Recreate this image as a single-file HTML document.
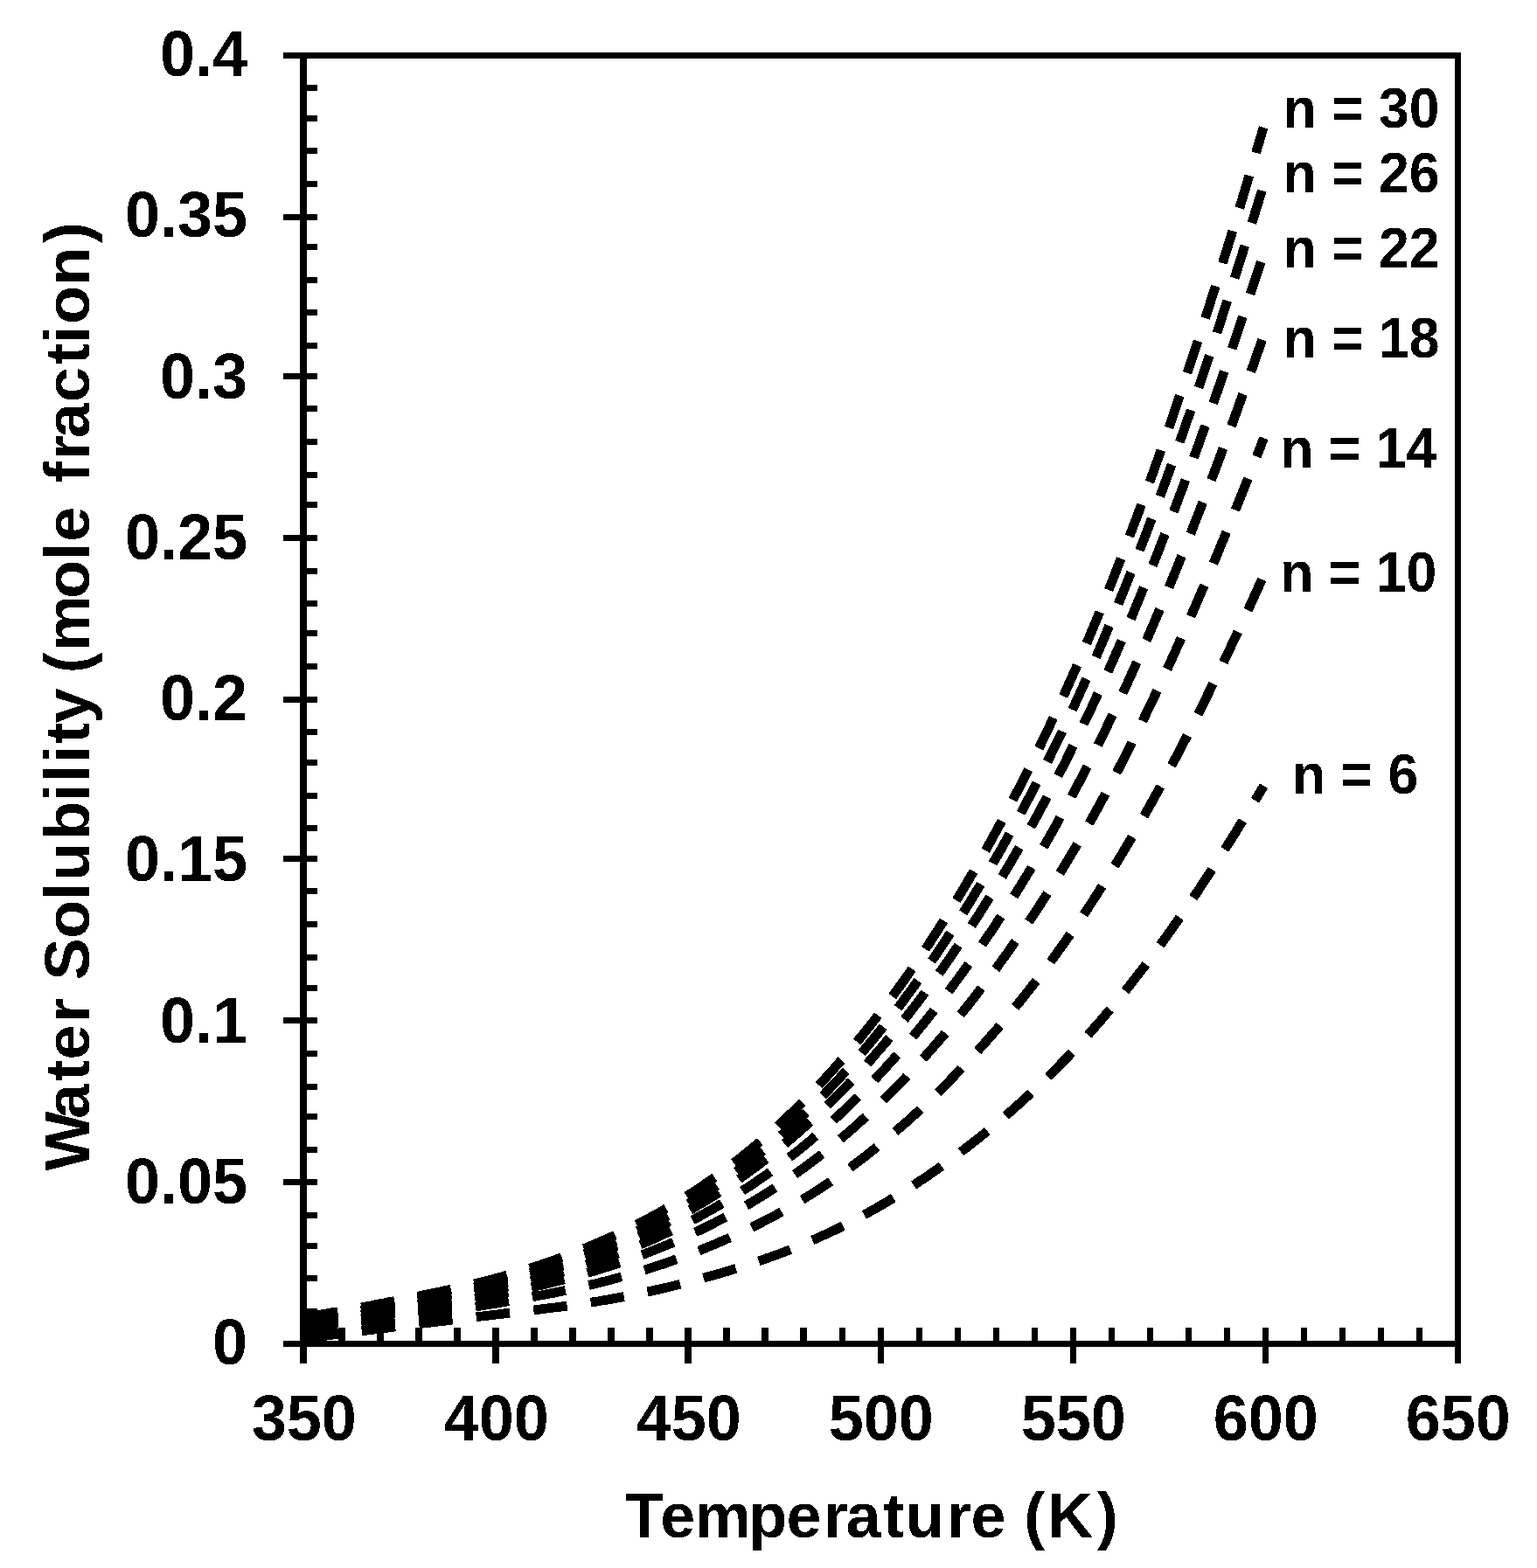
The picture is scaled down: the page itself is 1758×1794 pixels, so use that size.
<!DOCTYPE html>
<html lang="en"><head><meta charset="utf-8"><title>Water Solubility vs Temperature</title>
<style>html,body{margin:0;padding:0;background:#fff}svg{display:block}text{font-family:"Liberation Sans",Arial,Helvetica,sans-serif;font-weight:bold;fill:#000}</style></head><body>
<svg width="1758" height="1794" viewBox="0 0 1758 1794">
<defs><filter id="bw" x="0" y="0" width="1758" height="1794" filterUnits="userSpaceOnUse" color-interpolation-filters="sRGB"><feComponentTransfer><feFuncR type="discrete" tableValues="0 1"/><feFuncG type="discrete" tableValues="0 1"/><feFuncB type="discrete" tableValues="0 1"/></feComponentTransfer></filter></defs>
<g filter="url(#bw)">
<rect width="1758" height="1794" fill="#fff"/>
<g fill="#000" shape-rendering="crispEdges">
<rect x="324" y="60" width="1347" height="7"/>
<rect x="324" y="1534" width="1347" height="7"/>
<rect x="343" y="60" width="8" height="1500"/>
<rect x="1664" y="60" width="7" height="1500"/>
<rect x="347" y="1497" width="16" height="7"/>
<rect x="347" y="1459" width="16" height="7"/>
<rect x="347" y="1422" width="16" height="7"/>
<rect x="347" y="1387" width="16" height="7"/>
<rect x="324" y="1349" width="39" height="7"/>
<rect x="347" y="1312" width="16" height="7"/>
<rect x="347" y="1274" width="16" height="7"/>
<rect x="347" y="1240" width="16" height="7"/>
<rect x="347" y="1202" width="16" height="7"/>
<rect x="324" y="1164" width="39" height="7"/>
<rect x="347" y="1127" width="16" height="7"/>
<rect x="347" y="1092" width="16" height="7"/>
<rect x="347" y="1054" width="16" height="7"/>
<rect x="347" y="1016" width="16" height="7"/>
<rect x="324" y="979" width="39" height="7"/>
<rect x="347" y="944" width="16" height="7"/>
<rect x="347" y="907" width="16" height="7"/>
<rect x="347" y="869" width="16" height="7"/>
<rect x="347" y="834" width="16" height="7"/>
<rect x="324" y="797" width="39" height="7"/>
<rect x="347" y="759" width="16" height="7"/>
<rect x="347" y="721" width="16" height="7"/>
<rect x="347" y="687" width="16" height="7"/>
<rect x="347" y="650" width="16" height="7"/>
<rect x="324" y="612" width="39" height="7"/>
<rect x="347" y="574" width="16" height="7"/>
<rect x="347" y="540" width="16" height="7"/>
<rect x="347" y="502" width="16" height="7"/>
<rect x="347" y="464" width="16" height="7"/>
<rect x="324" y="427" width="39" height="7"/>
<rect x="347" y="392" width="16" height="7"/>
<rect x="347" y="354" width="16" height="7"/>
<rect x="347" y="317" width="16" height="7"/>
<rect x="347" y="279" width="16" height="7"/>
<rect x="324" y="245" width="39" height="7"/>
<rect x="347" y="207" width="16" height="7"/>
<rect x="347" y="169" width="16" height="7"/>
<rect x="347" y="132" width="16" height="7"/>
<rect x="347" y="97" width="16" height="7"/>
<rect x="387" y="1519" width="8" height="19"/>
<rect x="431" y="1519" width="8" height="19"/>
<rect x="475" y="1519" width="8" height="19"/>
<rect x="519" y="1519" width="8" height="19"/>
<rect x="563" y="1519" width="8" height="41"/>
<rect x="607" y="1519" width="8" height="19"/>
<rect x="651" y="1519" width="8" height="19"/>
<rect x="695" y="1519" width="8" height="19"/>
<rect x="739" y="1519" width="8" height="19"/>
<rect x="783" y="1519" width="8" height="41"/>
<rect x="827" y="1519" width="8" height="19"/>
<rect x="871" y="1519" width="8" height="19"/>
<rect x="915" y="1519" width="8" height="19"/>
<rect x="960" y="1519" width="7" height="19"/>
<rect x="1004" y="1519" width="7" height="41"/>
<rect x="1048" y="1519" width="7" height="19"/>
<rect x="1092" y="1519" width="7" height="19"/>
<rect x="1136" y="1519" width="7" height="19"/>
<rect x="1180" y="1519" width="7" height="19"/>
<rect x="1224" y="1519" width="7" height="41"/>
<rect x="1268" y="1519" width="7" height="19"/>
<rect x="1312" y="1519" width="7" height="19"/>
<rect x="1356" y="1519" width="7" height="19"/>
<rect x="1400" y="1519" width="7" height="19"/>
<rect x="1444" y="1519" width="7" height="41"/>
<rect x="1488" y="1519" width="7" height="19"/>
<rect x="1532" y="1519" width="7" height="19"/>
<rect x="1576" y="1519" width="7" height="19"/>
<rect x="1620" y="1519" width="7" height="19"/>
</g>
<g transform="translate(0.2 0.2)" fill="none" stroke="#000" stroke-width="10.8" stroke-dasharray="38.7 27.3" stroke-dashoffset="-0.5" stroke-linecap="butt" stroke-linejoin="round">
<path d="M347.5 1530.9 L353.0 1530.3 L358.5 1529.7 L364.0 1529.0 L369.5 1528.4 L375.0 1527.7 L380.5 1527.0 L386.0 1526.3 L391.5 1525.6 L397.0 1524.9 L402.5 1524.2 L408.0 1523.4 L413.5 1522.7 L419.0 1522.0 L424.5 1521.3 L430.0 1520.6 L435.5 1519.8 L441.0 1519.1 L446.5 1518.5 L452.0 1517.8 L457.5 1517.1 L463.0 1516.4 L468.5 1515.7 L474.0 1515.1 L479.5 1514.4 L485.0 1513.7 L490.5 1513.1 L496.0 1512.4 L501.5 1511.7 L507.0 1511.1 L512.5 1510.4 L518.0 1509.7 L523.5 1509.1 L529.0 1508.4 L534.5 1507.8 L540.0 1507.1 L545.5 1506.4 L551.0 1505.8 L556.5 1505.1 L562.0 1504.5 L567.5 1503.8 L573.0 1503.2 L578.5 1502.5 L584.0 1501.9 L589.5 1501.2 L595.0 1500.6 L600.5 1499.9 L606.0 1499.3 L611.5 1498.6 L617.0 1497.9 L622.5 1497.2 L628.0 1496.5 L633.5 1495.8 L639.0 1495.1 L644.5 1494.4 L650.0 1493.7 L655.5 1492.9 L661.0 1492.1 L666.5 1491.3 L672.0 1490.5 L677.5 1489.6 L683.0 1488.8 L688.5 1487.8 L694.0 1486.9 L699.5 1485.9 L705.0 1484.9 L710.5 1483.9 L716.0 1482.9 L721.5 1481.8 L727.0 1480.7 L732.5 1479.5 L738.0 1478.4 L743.5 1477.2 L749.0 1475.9 L754.5 1474.7 L760.0 1473.4 L765.5 1472.1 L771.0 1470.7 L776.5 1469.4 L782.0 1468.0 L787.5 1466.6 L793.0 1465.1 L798.5 1463.7 L804.0 1462.2 L809.5 1460.6 L815.0 1459.1 L820.5 1457.5 L826.0 1455.9 L831.5 1454.3 L837.0 1452.6 L842.5 1450.9 L848.0 1449.2 L853.5 1447.4 L859.0 1445.6 L864.5 1443.8 L870.0 1441.9 L875.5 1440.0 L881.0 1438.0 L886.5 1436.0 L892.0 1434.0 L897.5 1431.9 L903.0 1429.7 L908.5 1427.5 L914.0 1425.3 L919.5 1423.0 L925.0 1420.6 L930.5 1418.2 L936.0 1415.7 L941.5 1413.2 L947.0 1410.7 L952.5 1408.1 L958.0 1405.4 L963.5 1402.7 L969.0 1399.9 L974.5 1397.0 L980.0 1394.1 L985.5 1391.2 L991.0 1388.2 L996.5 1385.1 L1002.0 1382.0 L1007.5 1378.8 L1013.0 1375.6 L1018.5 1372.3 L1024.0 1369.0 L1029.5 1365.6 L1035.0 1362.1 L1040.5 1358.6 L1046.0 1355.1 L1051.5 1351.4 L1057.0 1347.7 L1062.5 1344.0 L1068.0 1340.2 L1073.5 1336.3 L1079.0 1332.4 L1084.5 1328.4 L1090.0 1324.4 L1095.5 1320.3 L1101.0 1316.1 L1106.5 1311.9 L1112.0 1307.6 L1117.5 1303.3 L1123.0 1298.9 L1128.5 1294.4 L1134.0 1289.9 L1139.5 1285.3 L1145.0 1280.7 L1150.5 1275.9 L1156.0 1271.2 L1161.5 1266.3 L1167.0 1261.4 L1172.5 1256.4 L1178.0 1251.3 L1183.5 1246.2 L1189.0 1241.0 L1194.5 1235.7 L1200.0 1230.3 L1205.5 1224.9 L1211.0 1219.3 L1216.5 1213.7 L1222.0 1208.0 L1227.5 1202.2 L1233.0 1196.3 L1238.5 1190.3 L1244.0 1184.2 L1249.5 1178.0 L1255.0 1171.8 L1260.5 1165.4 L1266.0 1158.9 L1271.5 1152.4 L1277.0 1145.7 L1282.5 1138.9 L1288.0 1132.1 L1293.5 1125.2 L1299.0 1118.1 L1304.5 1111.0 L1310.0 1103.7 L1315.5 1096.4 L1321.0 1089.0 L1326.5 1081.5 L1332.0 1073.9 L1337.5 1066.2 L1343.0 1058.4 L1348.5 1050.5 L1354.0 1042.6 L1359.5 1034.5 L1365.0 1026.4 L1370.5 1018.2 L1376.0 1009.9 L1381.5 1001.5 L1387.0 993.0 L1392.5 984.5 L1398.0 975.9 L1403.5 967.2 L1409.0 958.4 L1414.5 949.6 L1420.0 940.7 L1425.5 931.7 L1431.0 922.7 L1436.5 913.6 L1442.0 904.5 L1445.3 899.0"/>
<path d="M347.5 1525.5 L353.0 1524.7 L358.5 1523.9 L364.0 1523.1 L369.5 1522.2 L375.0 1521.4 L380.5 1520.5 L386.0 1519.6 L391.5 1518.7 L397.0 1517.8 L402.5 1517.0 L408.0 1516.1 L413.5 1515.2 L419.0 1514.3 L424.5 1513.4 L430.0 1512.5 L435.5 1511.7 L441.0 1510.8 L446.5 1509.9 L452.0 1509.1 L457.5 1508.2 L463.0 1507.4 L468.5 1506.5 L474.0 1505.7 L479.5 1504.8 L485.0 1504.0 L490.5 1503.1 L496.0 1502.3 L501.5 1501.4 L507.0 1500.6 L512.5 1499.7 L518.0 1498.9 L523.5 1498.0 L529.0 1497.1 L534.5 1496.2 L540.0 1495.4 L545.5 1494.5 L551.0 1493.6 L556.5 1492.7 L562.0 1491.8 L567.5 1490.9 L573.0 1490.0 L578.5 1489.0 L584.0 1488.1 L589.5 1487.1 L595.0 1486.1 L600.5 1485.2 L606.0 1484.2 L611.5 1483.1 L617.0 1482.1 L622.5 1481.1 L628.0 1480.0 L633.5 1478.9 L639.0 1477.8 L644.5 1476.7 L650.0 1475.5 L655.5 1474.3 L661.0 1473.1 L666.5 1471.9 L672.0 1470.6 L677.5 1469.3 L683.0 1468.0 L688.5 1466.6 L694.0 1465.2 L699.5 1463.7 L705.0 1462.2 L710.5 1460.7 L716.0 1459.2 L721.5 1457.6 L727.0 1455.9 L732.5 1454.2 L738.0 1452.5 L743.5 1450.8 L749.0 1449.0 L754.5 1447.1 L760.0 1445.3 L765.5 1443.4 L771.0 1441.4 L776.5 1439.4 L782.0 1437.4 L787.5 1435.3 L793.0 1433.2 L798.5 1431.0 L804.0 1428.9 L809.5 1426.6 L815.0 1424.3 L820.5 1422.0 L826.0 1419.6 L831.5 1417.2 L837.0 1414.8 L842.5 1412.3 L848.0 1409.7 L853.5 1407.1 L859.0 1404.4 L864.5 1401.7 L870.0 1398.9 L875.5 1396.1 L881.0 1393.2 L886.5 1390.2 L892.0 1387.2 L897.5 1384.2 L903.0 1381.0 L908.5 1377.8 L914.0 1374.6 L919.5 1371.2 L925.0 1367.8 L930.5 1364.4 L936.0 1360.8 L941.5 1357.2 L947.0 1353.5 L952.5 1349.8 L958.0 1346.0 L963.5 1342.1 L969.0 1338.1 L974.5 1334.1 L980.0 1330.0 L985.5 1325.8 L991.0 1321.6 L996.5 1317.2 L1002.0 1312.8 L1007.5 1308.4 L1013.0 1303.8 L1018.5 1299.2 L1024.0 1294.5 L1029.5 1289.7 L1035.0 1284.9 L1040.5 1280.0 L1046.0 1275.0 L1051.5 1269.9 L1057.0 1264.7 L1062.5 1259.5 L1068.0 1254.2 L1073.5 1248.8 L1079.0 1243.3 L1084.5 1237.8 L1090.0 1232.1 L1095.5 1226.4 L1101.0 1220.6 L1106.5 1214.8 L1112.0 1208.8 L1117.5 1202.8 L1123.0 1196.7 L1128.5 1190.5 L1134.0 1184.2 L1139.5 1177.9 L1145.0 1171.5 L1150.5 1164.9 L1156.0 1158.3 L1161.5 1151.6 L1167.0 1144.8 L1172.5 1138.0 L1178.0 1131.0 L1183.5 1123.9 L1189.0 1116.7 L1194.5 1109.5 L1200.0 1102.1 L1205.5 1094.6 L1211.0 1087.0 L1216.5 1079.3 L1222.0 1071.5 L1227.5 1063.6 L1233.0 1055.5 L1238.5 1047.4 L1244.0 1039.1 L1249.5 1030.7 L1255.0 1022.2 L1260.5 1013.6 L1266.0 1004.8 L1271.5 995.9 L1277.0 986.9 L1282.5 977.8 L1288.0 968.6 L1293.5 959.2 L1299.0 949.7 L1304.5 940.2 L1310.0 930.5 L1315.5 920.6 L1321.0 910.7 L1326.5 900.6 L1332.0 890.5 L1337.5 880.2 L1343.0 869.8 L1348.5 859.3 L1354.0 848.7 L1359.5 837.9 L1365.0 827.1 L1370.5 816.2 L1376.0 805.1 L1381.5 794.0 L1387.0 782.7 L1392.5 771.4 L1398.0 760.0 L1403.5 748.4 L1409.0 736.8 L1414.5 725.1 L1420.0 713.3 L1425.5 701.5 L1431.0 689.5 L1436.5 677.5 L1442.0 665.4 L1447.5 653.3"/>
<path d="M347.5 1520.0 L353.0 1519.1 L358.5 1518.2 L364.0 1517.2 L369.5 1516.3 L375.0 1515.4 L380.5 1514.4 L386.0 1513.5 L391.5 1512.5 L397.0 1511.6 L402.5 1510.6 L408.0 1509.7 L413.5 1508.7 L419.0 1507.7 L424.5 1506.8 L430.0 1505.8 L435.5 1504.9 L441.0 1503.9 L446.5 1503.0 L452.0 1502.0 L457.5 1501.1 L463.0 1500.1 L468.5 1499.2 L474.0 1498.2 L479.5 1497.3 L485.0 1496.3 L490.5 1495.4 L496.0 1494.4 L501.5 1493.5 L507.0 1492.5 L512.5 1491.5 L518.0 1490.5 L523.5 1489.5 L529.0 1488.5 L534.5 1487.5 L540.0 1486.5 L545.5 1485.5 L551.0 1484.4 L556.5 1483.4 L562.0 1482.3 L567.5 1481.2 L573.0 1480.1 L578.5 1479.0 L584.0 1477.8 L589.5 1476.7 L595.0 1475.5 L600.5 1474.3 L606.0 1473.0 L611.5 1471.8 L617.0 1470.5 L622.5 1469.2 L628.0 1467.9 L633.5 1466.5 L639.0 1465.1 L644.5 1463.7 L650.0 1462.2 L655.5 1460.8 L661.0 1459.3 L666.5 1457.7 L672.0 1456.1 L677.5 1454.5 L683.0 1452.9 L688.5 1451.2 L694.0 1449.4 L699.5 1447.6 L705.0 1445.8 L710.5 1444.0 L716.0 1442.1 L721.5 1440.1 L727.0 1438.1 L732.5 1436.1 L738.0 1434.0 L743.5 1431.9 L749.0 1429.7 L754.5 1427.5 L760.0 1425.3 L765.5 1423.0 L771.0 1420.6 L776.5 1418.2 L782.0 1415.8 L787.5 1413.3 L793.0 1410.7 L798.5 1408.1 L804.0 1405.4 L809.5 1402.7 L815.0 1400.0 L820.5 1397.1 L826.0 1394.3 L831.5 1391.3 L837.0 1388.3 L842.5 1385.3 L848.0 1382.2 L853.5 1379.0 L859.0 1375.8 L864.5 1372.5 L870.0 1369.1 L875.5 1365.7 L881.0 1362.2 L886.5 1358.6 L892.0 1355.0 L897.5 1351.3 L903.0 1347.5 L908.5 1343.7 L914.0 1339.7 L919.5 1335.7 L925.0 1331.7 L930.5 1327.5 L936.0 1323.3 L941.5 1319.0 L947.0 1314.6 L952.5 1310.1 L958.0 1305.6 L963.5 1301.0 L969.0 1296.3 L974.5 1291.5 L980.0 1286.6 L985.5 1281.6 L991.0 1276.6 L996.5 1271.5 L1002.0 1266.3 L1007.5 1261.0 L1013.0 1255.6 L1018.5 1250.1 L1024.0 1244.6 L1029.5 1238.9 L1035.0 1233.2 L1040.5 1227.4 L1046.0 1221.5 L1051.5 1215.5 L1057.0 1209.4 L1062.5 1203.3 L1068.0 1197.0 L1073.5 1190.7 L1079.0 1184.2 L1084.5 1177.7 L1090.0 1171.1 L1095.5 1164.3 L1101.0 1157.5 L1106.5 1150.6 L1112.0 1143.6 L1117.5 1136.6 L1123.0 1129.4 L1128.5 1122.1 L1134.0 1114.7 L1139.5 1107.3 L1145.0 1099.7 L1150.5 1092.1 L1156.0 1084.3 L1161.5 1076.4 L1167.0 1068.5 L1172.5 1060.4 L1178.0 1052.2 L1183.5 1043.9 L1189.0 1035.5 L1194.5 1027.0 L1200.0 1018.3 L1205.5 1009.6 L1211.0 1000.7 L1216.5 991.7 L1222.0 982.5 L1227.5 973.3 L1233.0 963.9 L1238.5 954.3 L1244.0 944.6 L1249.5 934.8 L1255.0 924.9 L1260.5 914.8 L1266.0 904.6 L1271.5 894.2 L1277.0 883.7 L1282.5 873.1 L1288.0 862.4 L1293.5 851.5 L1299.0 840.4 L1304.5 829.3 L1310.0 818.0 L1315.5 806.5 L1321.0 795.0 L1326.5 783.2 L1332.0 771.4 L1337.5 759.5 L1343.0 747.4 L1348.5 735.1 L1354.0 722.8 L1359.5 710.3 L1365.0 697.7 L1370.5 685.0 L1376.0 672.2 L1381.5 659.2 L1387.0 646.1 L1392.5 632.9 L1398.0 619.6 L1403.5 606.2 L1409.0 592.7 L1414.5 579.1 L1420.0 565.4 L1425.5 551.6 L1431.0 537.6 L1436.5 523.6 L1442.0 509.6 L1445.3 501.1"/>
<path d="M347.5 1515.8 L353.0 1514.8 L358.5 1513.9 L364.0 1513.0 L369.5 1512.0 L375.0 1511.1 L380.5 1510.1 L386.0 1509.1 L391.5 1508.2 L397.0 1507.2 L402.5 1506.2 L408.0 1505.2 L413.5 1504.2 L419.0 1503.2 L424.5 1502.3 L430.0 1501.3 L435.5 1500.3 L441.0 1499.3 L446.5 1498.3 L452.0 1497.3 L457.5 1496.3 L463.0 1495.3 L468.5 1494.3 L474.0 1493.3 L479.5 1492.2 L485.0 1491.2 L490.5 1490.2 L496.0 1489.2 L501.5 1488.1 L507.0 1487.1 L512.5 1486.0 L518.0 1485.0 L523.5 1483.9 L529.0 1482.8 L534.5 1481.7 L540.0 1480.6 L545.5 1479.5 L551.0 1478.3 L556.5 1477.2 L562.0 1476.0 L567.5 1474.8 L573.0 1473.5 L578.5 1472.3 L584.0 1471.0 L589.5 1469.7 L595.0 1468.3 L600.5 1467.0 L606.0 1465.6 L611.5 1464.1 L617.0 1462.7 L622.5 1461.2 L628.0 1459.7 L633.5 1458.1 L639.0 1456.5 L644.5 1454.9 L650.0 1453.3 L655.5 1451.6 L661.0 1449.8 L666.5 1448.1 L672.0 1446.3 L677.5 1444.4 L683.0 1442.6 L688.5 1440.6 L694.0 1438.7 L699.5 1436.7 L705.0 1434.6 L710.5 1432.5 L716.0 1430.4 L721.5 1428.2 L727.0 1425.9 L732.5 1423.7 L738.0 1421.3 L743.5 1418.9 L749.0 1416.5 L754.5 1414.0 L760.0 1411.5 L765.5 1408.9 L771.0 1406.3 L776.5 1403.6 L782.0 1400.8 L787.5 1398.0 L793.0 1395.1 L798.5 1392.2 L804.0 1389.2 L809.5 1386.1 L815.0 1383.0 L820.5 1379.8 L826.0 1376.6 L831.5 1373.3 L837.0 1369.9 L842.5 1366.5 L848.0 1363.0 L853.5 1359.4 L859.0 1355.8 L864.5 1352.0 L870.0 1348.2 L875.5 1344.4 L881.0 1340.4 L886.5 1336.4 L892.0 1332.3 L897.5 1328.2 L903.0 1323.9 L908.5 1319.6 L914.0 1315.2 L919.5 1310.7 L925.0 1306.1 L930.5 1301.5 L936.0 1296.8 L941.5 1291.9 L947.0 1287.0 L952.5 1282.0 L958.0 1277.0 L963.5 1271.8 L969.0 1266.5 L974.5 1261.2 L980.0 1255.7 L985.5 1250.2 L991.0 1244.6 L996.5 1238.9 L1002.0 1233.1 L1007.5 1227.2 L1013.0 1221.2 L1018.5 1215.1 L1024.0 1208.9 L1029.5 1202.7 L1035.0 1196.3 L1040.5 1189.8 L1046.0 1183.3 L1051.5 1176.6 L1057.0 1169.8 L1062.5 1163.0 L1068.0 1156.0 L1073.5 1148.9 L1079.0 1141.8 L1084.5 1134.5 L1090.0 1127.1 L1095.5 1119.7 L1101.0 1112.1 L1106.5 1104.4 L1112.0 1096.7 L1117.5 1088.8 L1123.0 1080.8 L1128.5 1072.7 L1134.0 1064.5 L1139.5 1056.2 L1145.0 1047.8 L1150.5 1039.3 L1156.0 1030.7 L1161.5 1021.9 L1167.0 1013.1 L1172.5 1004.1 L1178.0 995.0 L1183.5 985.8 L1189.0 976.4 L1194.5 967.0 L1200.0 957.3 L1205.5 947.6 L1211.0 937.7 L1216.5 927.7 L1222.0 917.6 L1227.5 907.3 L1233.0 896.8 L1238.5 886.2 L1244.0 875.5 L1249.5 864.6 L1255.0 853.6 L1260.5 842.4 L1266.0 831.0 L1271.5 819.5 L1277.0 807.9 L1282.5 796.1 L1288.0 784.2 L1293.5 772.1 L1299.0 759.9 L1304.5 747.5 L1310.0 735.0 L1315.5 722.3 L1321.0 709.4 L1326.5 696.5 L1332.0 683.4 L1337.5 670.1 L1343.0 656.7 L1348.5 643.1 L1354.0 629.4 L1359.5 615.6 L1365.0 601.6 L1370.5 587.5 L1376.0 573.3 L1381.5 558.9 L1387.0 544.4 L1392.5 529.8 L1398.0 515.0 L1403.5 500.1 L1409.0 485.1 L1414.5 470.0 L1420.0 454.7 L1425.5 439.4 L1431.0 423.9 L1436.5 408.3 L1442.0 392.7 L1447.5 376.9"/>
<path d="M347.5 1512.1 L353.0 1511.1 L358.5 1510.2 L364.0 1509.3 L369.5 1508.3 L375.0 1507.4 L380.5 1506.4 L386.0 1505.4 L391.5 1504.5 L397.0 1503.5 L402.5 1502.5 L408.0 1501.5 L413.5 1500.5 L419.0 1499.5 L424.5 1498.5 L430.0 1497.4 L435.5 1496.4 L441.0 1495.4 L446.5 1494.4 L452.0 1493.3 L457.5 1492.3 L463.0 1491.2 L468.5 1490.2 L474.0 1489.1 L479.5 1488.1 L485.0 1487.0 L490.5 1485.9 L496.0 1484.8 L501.5 1483.7 L507.0 1482.6 L512.5 1481.5 L518.0 1480.4 L523.5 1479.2 L529.0 1478.1 L534.5 1476.9 L540.0 1475.7 L545.5 1474.5 L551.0 1473.3 L556.5 1472.0 L562.0 1470.7 L567.5 1469.4 L573.0 1468.1 L578.5 1466.7 L584.0 1465.3 L589.5 1463.9 L595.0 1462.4 L600.5 1460.9 L606.0 1459.4 L611.5 1457.8 L617.0 1456.2 L622.5 1454.5 L628.0 1452.8 L633.5 1451.1 L639.0 1449.4 L644.5 1447.6 L650.0 1445.7 L655.5 1443.9 L661.0 1442.0 L666.5 1440.0 L672.0 1438.0 L677.5 1436.0 L683.0 1433.9 L688.5 1431.8 L694.0 1429.6 L699.5 1427.4 L705.0 1425.1 L710.5 1422.8 L716.0 1420.5 L721.5 1418.1 L727.0 1415.6 L732.5 1413.1 L738.0 1410.6 L743.5 1408.0 L749.0 1405.3 L754.5 1402.6 L760.0 1399.8 L765.5 1397.0 L771.0 1394.1 L776.5 1391.2 L782.0 1388.2 L787.5 1385.1 L793.0 1381.9 L798.5 1378.7 L804.0 1375.4 L809.5 1372.1 L815.0 1368.7 L820.5 1365.2 L826.0 1361.7 L831.5 1358.0 L837.0 1354.3 L842.5 1350.6 L848.0 1346.7 L853.5 1342.8 L859.0 1338.8 L864.5 1334.7 L870.0 1330.6 L875.5 1326.3 L881.0 1322.0 L886.5 1317.6 L892.0 1313.1 L897.5 1308.6 L903.0 1303.9 L908.5 1299.2 L914.0 1294.4 L919.5 1289.5 L925.0 1284.5 L930.5 1279.5 L936.0 1274.3 L941.5 1269.1 L947.0 1263.7 L952.5 1258.3 L958.0 1252.8 L963.5 1247.1 L969.0 1241.4 L974.5 1235.6 L980.0 1229.7 L985.5 1223.7 L991.0 1217.6 L996.5 1211.4 L1002.0 1205.1 L1007.5 1198.7 L1013.0 1192.2 L1018.5 1185.6 L1024.0 1178.9 L1029.5 1172.1 L1035.0 1165.2 L1040.5 1158.2 L1046.0 1151.1 L1051.5 1143.9 L1057.0 1136.6 L1062.5 1129.1 L1068.0 1121.6 L1073.5 1114.0 L1079.0 1106.2 L1084.5 1098.3 L1090.0 1090.4 L1095.5 1082.3 L1101.0 1074.1 L1106.5 1065.8 L1112.0 1057.4 L1117.5 1048.9 L1123.0 1040.3 L1128.5 1031.5 L1134.0 1022.7 L1139.5 1013.7 L1145.0 1004.6 L1150.5 995.4 L1156.0 986.1 L1161.5 976.6 L1167.0 967.1 L1172.5 957.3 L1178.0 947.5 L1183.5 937.6 L1189.0 927.5 L1194.5 917.2 L1200.0 906.8 L1205.5 896.3 L1211.0 885.7 L1216.5 874.9 L1222.0 863.9 L1227.5 852.8 L1233.0 841.5 L1238.5 830.1 L1244.0 818.5 L1249.5 806.8 L1255.0 794.9 L1260.5 782.9 L1266.0 770.6 L1271.5 758.3 L1277.0 745.8 L1282.5 733.1 L1288.0 720.2 L1293.5 707.2 L1299.0 694.0 L1304.5 680.7 L1310.0 667.2 L1315.5 653.6 L1321.0 639.8 L1326.5 625.9 L1332.0 611.8 L1337.5 597.5 L1343.0 583.1 L1348.5 568.5 L1354.0 553.8 L1359.5 538.9 L1365.0 523.9 L1370.5 508.8 L1376.0 493.4 L1381.5 478.0 L1387.0 462.4 L1392.5 446.7 L1398.0 430.8 L1403.5 414.8 L1409.0 398.7 L1414.5 382.4 L1420.0 366.1 L1425.5 349.5 L1431.0 332.9 L1436.5 316.2 L1442.0 299.3 L1447.5 282.4"/>
<path d="M347.5 1510.6 L353.0 1509.7 L358.5 1508.8 L364.0 1507.8 L369.5 1506.9 L375.0 1505.9 L380.5 1504.9 L386.0 1503.9 L391.5 1503.0 L397.0 1502.0 L402.5 1501.0 L408.0 1499.9 L413.5 1498.9 L419.0 1497.9 L424.5 1496.9 L430.0 1495.8 L435.5 1494.8 L441.0 1493.7 L446.5 1492.6 L452.0 1491.6 L457.5 1490.5 L463.0 1489.4 L468.5 1488.3 L474.0 1487.2 L479.5 1486.1 L485.0 1485.0 L490.5 1483.9 L496.0 1482.8 L501.5 1481.7 L507.0 1480.5 L512.5 1479.3 L518.0 1478.2 L523.5 1477.0 L529.0 1475.8 L534.5 1474.6 L540.0 1473.3 L545.5 1472.0 L551.0 1470.7 L556.5 1469.4 L562.0 1468.1 L567.5 1466.7 L573.0 1465.3 L578.5 1463.8 L584.0 1462.3 L589.5 1460.8 L595.0 1459.3 L600.5 1457.7 L606.0 1456.0 L611.5 1454.4 L617.0 1452.6 L622.5 1450.9 L628.0 1449.1 L633.5 1447.3 L639.0 1445.4 L644.5 1443.5 L650.0 1441.5 L655.5 1439.5 L661.0 1437.5 L666.5 1435.4 L672.0 1433.2 L677.5 1431.1 L683.0 1428.8 L688.5 1426.6 L694.0 1424.3 L699.5 1421.9 L705.0 1419.5 L710.5 1417.1 L716.0 1414.6 L721.5 1412.0 L727.0 1409.4 L732.5 1406.7 L738.0 1404.0 L743.5 1401.2 L749.0 1398.4 L754.5 1395.5 L760.0 1392.6 L765.5 1389.5 L771.0 1386.5 L776.5 1383.3 L782.0 1380.1 L787.5 1376.8 L793.0 1373.5 L798.5 1370.1 L804.0 1366.6 L809.5 1363.0 L815.0 1359.3 L820.5 1355.6 L826.0 1351.8 L831.5 1348.0 L837.0 1344.0 L842.5 1340.0 L848.0 1335.9 L853.5 1331.7 L859.0 1327.4 L864.5 1323.0 L870.0 1318.6 L875.5 1314.0 L881.0 1309.4 L886.5 1304.7 L892.0 1299.9 L897.5 1295.1 L903.0 1290.1 L908.5 1285.0 L914.0 1279.9 L919.5 1274.7 L925.0 1269.3 L930.5 1263.9 L936.0 1258.4 L941.5 1252.8 L947.0 1247.1 L952.5 1241.3 L958.0 1235.4 L963.5 1229.4 L969.0 1223.3 L974.5 1217.1 L980.0 1210.8 L985.5 1204.4 L991.0 1197.9 L996.5 1191.3 L1002.0 1184.6 L1007.5 1177.8 L1013.0 1170.9 L1018.5 1163.8 L1024.0 1156.7 L1029.5 1149.5 L1035.0 1142.1 L1040.5 1134.6 L1046.0 1127.1 L1051.5 1119.4 L1057.0 1111.6 L1062.5 1103.6 L1068.0 1095.6 L1073.5 1087.5 L1079.0 1079.2 L1084.5 1070.8 L1090.0 1062.3 L1095.5 1053.7 L1101.0 1045.0 L1106.5 1036.2 L1112.0 1027.2 L1117.5 1018.1 L1123.0 1008.9 L1128.5 999.6 L1134.0 990.2 L1139.5 980.6 L1145.0 971.0 L1150.5 961.1 L1156.0 951.2 L1161.5 941.1 L1167.0 930.9 L1172.5 920.6 L1178.0 910.1 L1183.5 899.5 L1189.0 888.8 L1194.5 877.9 L1200.0 866.8 L1205.5 855.6 L1211.0 844.3 L1216.5 832.8 L1222.0 821.1 L1227.5 809.3 L1233.0 797.3 L1238.5 785.1 L1244.0 772.8 L1249.5 760.3 L1255.0 747.7 L1260.5 734.9 L1266.0 721.9 L1271.5 708.7 L1277.0 695.4 L1282.5 681.9 L1288.0 668.3 L1293.5 654.5 L1299.0 640.5 L1304.5 626.3 L1310.0 612.0 L1315.5 597.5 L1321.0 582.9 L1326.5 568.1 L1332.0 553.1 L1337.5 538.0 L1343.0 522.7 L1348.5 507.2 L1354.0 491.6 L1359.5 475.8 L1365.0 459.9 L1370.5 443.8 L1376.0 427.6 L1381.5 411.2 L1387.0 394.6 L1392.5 378.0 L1398.0 361.1 L1403.5 344.2 L1409.0 327.0 L1414.5 309.8 L1420.0 292.4 L1425.5 274.9 L1431.0 257.3 L1436.5 239.5 L1442.0 221.6 L1447.5 203.6"/>
<path d="M347.5 1507.0 L353.0 1506.1 L358.5 1505.2 L364.0 1504.3 L369.5 1503.4 L375.0 1502.4 L380.5 1501.5 L386.0 1500.5 L391.5 1499.6 L397.0 1498.6 L402.5 1497.6 L408.0 1496.6 L413.5 1495.6 L419.0 1494.5 L424.5 1493.5 L430.0 1492.4 L435.5 1491.4 L441.0 1490.3 L446.5 1489.2 L452.0 1488.2 L457.5 1487.1 L463.0 1485.9 L468.5 1484.8 L474.0 1483.7 L479.5 1482.6 L485.0 1481.4 L490.5 1480.3 L496.0 1479.1 L501.5 1478.0 L507.0 1476.8 L512.5 1475.6 L518.0 1474.3 L523.5 1473.1 L529.0 1471.9 L534.5 1470.6 L540.0 1469.3 L545.5 1468.0 L551.0 1466.6 L556.5 1465.2 L562.0 1463.8 L567.5 1462.3 L573.0 1460.9 L578.5 1459.3 L584.0 1457.7 L589.5 1456.1 L595.0 1454.5 L600.5 1452.8 L606.0 1451.0 L611.5 1449.2 L617.0 1447.4 L622.5 1445.5 L628.0 1443.6 L633.5 1441.7 L639.0 1439.7 L644.5 1437.6 L650.0 1435.5 L655.5 1433.4 L661.0 1431.2 L666.5 1429.0 L672.0 1426.7 L677.5 1424.4 L683.0 1422.0 L688.5 1419.6 L694.0 1417.1 L699.5 1414.6 L705.0 1412.1 L710.5 1409.5 L716.0 1406.8 L721.5 1404.1 L727.0 1401.4 L732.5 1398.5 L738.0 1395.7 L743.5 1392.7 L749.0 1389.7 L754.5 1386.7 L760.0 1383.6 L765.5 1380.4 L771.0 1377.1 L776.5 1373.8 L782.0 1370.4 L787.5 1366.9 L793.0 1363.4 L798.5 1359.8 L804.0 1356.1 L809.5 1352.3 L815.0 1348.5 L820.5 1344.5 L826.0 1340.5 L831.5 1336.4 L837.0 1332.2 L842.5 1327.9 L848.0 1323.6 L853.5 1319.1 L859.0 1314.6 L864.5 1310.0 L870.0 1305.3 L875.5 1300.5 L881.0 1295.6 L886.5 1290.7 L892.0 1285.6 L897.5 1280.5 L903.0 1275.2 L908.5 1269.9 L914.0 1264.5 L919.5 1258.9 L925.0 1253.3 L930.5 1247.6 L936.0 1241.8 L941.5 1235.9 L947.0 1229.9 L952.5 1223.8 L958.0 1217.6 L963.5 1211.3 L969.0 1204.9 L974.5 1198.4 L980.0 1191.8 L985.5 1185.0 L991.0 1178.2 L996.5 1171.3 L1002.0 1164.2 L1007.5 1157.1 L1013.0 1149.8 L1018.5 1142.4 L1024.0 1134.9 L1029.5 1127.3 L1035.0 1119.6 L1040.5 1111.8 L1046.0 1103.8 L1051.5 1095.7 L1057.0 1087.6 L1062.5 1079.3 L1068.0 1070.8 L1073.5 1062.3 L1079.0 1053.6 L1084.5 1044.9 L1090.0 1036.0 L1095.5 1026.9 L1101.0 1017.8 L1106.5 1008.5 L1112.0 999.1 L1117.5 989.6 L1123.0 980.0 L1128.5 970.2 L1134.0 960.3 L1139.5 950.3 L1145.0 940.2 L1150.5 929.9 L1156.0 919.5 L1161.5 908.9 L1167.0 898.2 L1172.5 887.4 L1178.0 876.4 L1183.5 865.3 L1189.0 854.0 L1194.5 842.6 L1200.0 831.0 L1205.5 819.3 L1211.0 807.4 L1216.5 795.3 L1222.0 783.1 L1227.5 770.7 L1233.0 758.2 L1238.5 745.5 L1244.0 732.6 L1249.5 719.5 L1255.0 706.3 L1260.5 692.8 L1266.0 679.3 L1271.5 665.5 L1277.0 651.6 L1282.5 637.4 L1288.0 623.2 L1293.5 608.7 L1299.0 594.1 L1304.5 579.3 L1310.0 564.3 L1315.5 549.1 L1321.0 533.8 L1326.5 518.3 L1332.0 502.6 L1337.5 486.8 L1343.0 470.8 L1348.5 454.6 L1354.0 438.2 L1359.5 421.7 L1365.0 405.1 L1370.5 388.2 L1376.0 371.2 L1381.5 354.1 L1387.0 336.7 L1392.5 319.3 L1398.0 301.6 L1403.5 283.9 L1409.0 266.0 L1414.5 247.9 L1420.0 229.7 L1425.5 211.3 L1431.0 192.8 L1436.5 174.2 L1442.0 155.5 L1444.9 145.7"/>
</g>
<text transform="translate(283 1561) scale(1 1.04)" font-size="72" text-anchor="end">0</text>
<text transform="translate(283 1376.75) scale(1 1.04)" font-size="72" text-anchor="end">0.05</text>
<text transform="translate(283 1192.5) scale(1 1.04)" font-size="72" text-anchor="end">0.1</text>
<text transform="translate(283 1008.25) scale(1 1.04)" font-size="72" text-anchor="end">0.15</text>
<text transform="translate(283 824) scale(1 1.04)" font-size="72" text-anchor="end">0.2</text>
<text transform="translate(283 639.75) scale(1 1.04)" font-size="72" text-anchor="end">0.25</text>
<text transform="translate(283 455.5) scale(1 1.04)" font-size="72" text-anchor="end">0.3</text>
<text transform="translate(283 271.25) scale(1 1.04)" font-size="72" text-anchor="end">0.35</text>
<text transform="translate(283 87) scale(1 1.04)" font-size="72" text-anchor="end">0.4</text>
<text transform="translate(347.7 1648) scale(1 1.04)" font-size="72" text-anchor="middle">350</text>
<text transform="translate(567.7 1648) scale(1 1.04)" font-size="72" text-anchor="middle">400</text>
<text transform="translate(787.7 1648) scale(1 1.04)" font-size="72" text-anchor="middle">450</text>
<text transform="translate(1007.7 1648) scale(1 1.04)" font-size="72" text-anchor="middle">500</text>
<text transform="translate(1227.7 1648) scale(1 1.04)" font-size="72" text-anchor="middle">550</text>
<text transform="translate(1447.7 1648) scale(1 1.04)" font-size="72" text-anchor="middle">600</text>
<text transform="translate(1667.7 1648) scale(1 1.04)" font-size="72" text-anchor="middle">650</text>
<text transform="translate(1467.5 146) scale(1 1.03)" font-size="62.5">n = 30</text>
<text transform="translate(1467.5 220) scale(1 1.03)" font-size="62.5">n = 26</text>
<text transform="translate(1467.5 306) scale(1 1.03)" font-size="62.5">n = 22</text>
<text transform="translate(1467.5 408.7) scale(1 1.03)" font-size="62.5">n = 18</text>
<text transform="translate(1464.3 535) scale(1 1.03)" font-size="62.5">n = 14</text>
<text transform="translate(1464.3 677) scale(1 1.03)" font-size="62.5">n = 10</text>
<text transform="translate(1478 907.7) scale(1 1.03)" font-size="62.5">n = 6</text>
<text transform="translate(0 1759) scale(1 1)" font-size="72" x="714.94 755.3 794.8 856.31 899.5 941.81 967.45 1010.26 1035.75 1083.01 1110.6 1150.65 1171.2 1198.13 1254.72" y="0">Temperature (K)</text>
<text transform="translate(102 1340) rotate(-90) scale(1 1)" font-size="72" x="0.62 60.1 103.56 127.45 170.36 198.38 218.41 266.26 310.08 332.15 379.16 422.93 444.98 467.08 489.51 512.49 552.53 569.65 595.05 655.16 699.03 720.35 760.4 788.13 813.81 838.8 879.78 923.11 946.98 968.91 1013.22 1061.87" y="0">Water Solubility (mole fraction)</text>
</g></svg></body></html>
